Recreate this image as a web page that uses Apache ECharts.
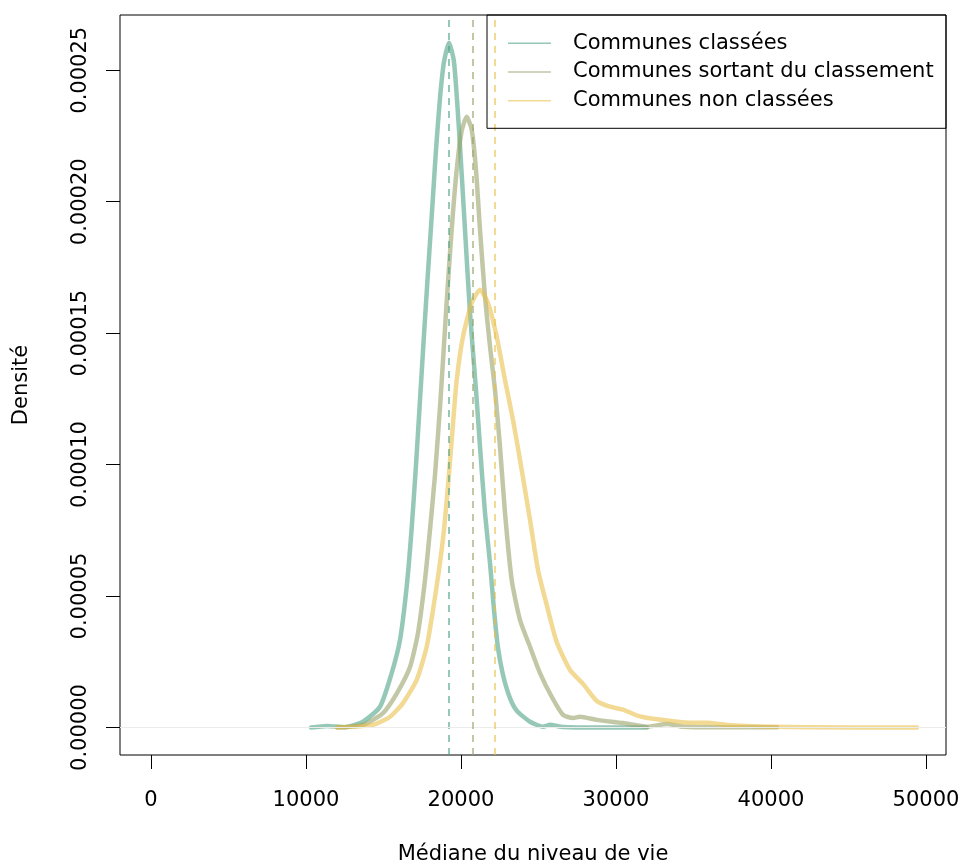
<!DOCTYPE html>
<html>
<head>
<meta charset="utf-8">
<script src="https://cdn.jsdelivr.net/npm/echarts@6/dist/echarts.min.js"></script>
<style>
html,body{margin:0;padding:0;background:#fff;}
#chart{width:964px;height:866px;}
</style>
</head>
<body>
<div id="chart"></div>
<script>
// ---- data ----
const seriesNames = ['Communes classées', 'Communes sortant du classement', 'Communes non classées'];
const xTicks = [0, 10000, 20000, 30000, 40000, 50000];
const yTicks = [0, 0.00005, 0.0001, 0.00015, 0.0002, 0.00025];

const classeesX = [10323, 11355, 12516, 13677, 14774, 15529, 16065, 16497, 16819, 17097, 17355, 17613, 17871, 18129, 18387, 18645, 18903, 19226, 19548, 19871, 20258, 20581, 20968, 21226, 21548, 21871, 22129, 22387, 22710, 23161, 23613, 24452, 25290, 25742, 26581, 28968, 32000];
const classeesY = [0.0e-5, 0.06e-5, 0.01e-5, 0.22e-5, 0.79e-5, 2.07e-5, 3.33e-5, 5.36e-5, 7.59e-5, 9.99e-5, 12.46e-5, 14.94e-5, 17.33e-5, 19.62e-5, 21.97e-5, 23.95e-5, 25.32e-5, 26.05e-5, 25.32e-5, 22.74e-5, 18.93e-5, 15.77e-5, 12.84e-5, 10.68e-5, 8.16e-5, 6.26e-5, 4.47e-5, 3.03e-5, 2.00e-5, 1.12e-5, 0.63e-5, 0.22e-5, 0.03e-5, 0.10e-5, 0.02e-5, 0.0e-5, 0.0e-5];

const sortantX = [12000, 13677, 14968, 15871, 16710, 17226, 17677, 18000, 18323, 18677, 19065, 19387, 19710, 20032, 20368, 20690, 20968, 21226, 21548, 21871, 22194, 22516, 22839, 23271, 23806, 24452, 25097, 25852, 26581, 27226, 27677, 28774, 30452, 32000, 33290, 34323, 36516, 40387];
const sortantY = [0.0e-5, 0.10e-5, 0.55e-5, 1.31e-5, 2.30e-5, 3.60e-5, 5.61e-5, 7.52e-5, 9.61e-5, 12.46e-5, 16.08e-5, 18.85e-5, 21.14e-5, 22.66e-5, 23.23e-5, 22.74e-5, 21.21e-5, 18.93e-5, 16.39e-5, 14.49e-5, 12.84e-5, 10.68e-5, 8.16e-5, 5.61e-5, 4.09e-5, 3.07e-5, 2.07e-5, 1.17e-5, 0.48e-5, 0.36e-5, 0.41e-5, 0.29e-5, 0.17e-5, 0.03e-5, 0.13e-5, 0.03e-5, 0.01e-5, 0.01e-5];

const nonClasseesX = [12000, 14323, 15419, 16258, 17142, 17787, 18194, 18581, 18903, 19194, 19452, 19723, 20129, 20690, 21226, 21742, 22303, 22839, 23355, 23916, 24452, 24968, 25529, 26174, 27032, 27871, 28755, 29613, 30452, 31419, 32516, 34774, 35871, 37161, 40129, 42323, 49419];
const nonClasseesY = [0.0e-5, 0.10e-5, 0.41e-5, 0.93e-5, 1.81e-5, 3.07e-5, 4.47e-5, 5.99e-5, 7.52e-5, 9.42e-5, 11.32e-5, 13.22e-5, 14.87e-5, 16.15e-5, 16.65e-5, 16.15e-5, 14.87e-5, 13.22e-5, 11.70e-5, 9.80e-5, 7.90e-5, 5.99e-5, 4.66e-5, 3.25e-5, 2.19e-5, 1.66e-5, 1.01e-5, 0.79e-5, 0.68e-5, 0.44e-5, 0.32e-5, 0.18e-5, 0.18e-5, 0.10e-5, 0.03e-5, 0.01e-5, 0.0e-5];

const medians = [19226, 20729, 22194];

// ---- styles ----
const lineColors = ['rgba(72,160,130,0.58)', 'rgba(150,160,100,0.58)', 'rgba(232,190,70,0.58)'];
const FONT = 'DejaVu Sans';

function pairs(xs, ys) { return xs.map((x, i) => [x, ys[i]]); }
const allX = [classeesX, sortantX, nonClasseesX];
const allY = [classeesY, sortantY, nonClasseesY];

const chart = echarts.init(document.getElementById('chart'), null, {renderer: 'canvas'});

const series = seriesNames.map((name, i) => ({
  name: name,
  type: 'line',
  data: pairs(allX[i], allY[i]),
  showSymbol: false,
  symbol: 'none',
  smooth: 0.2,
  color: lineColors[i],
  lineStyle: {color: lineColors[i], width: 4.5, cap: 'round', join: 'round'},
  z: 3,
  markLine: {
    silent: true,
    symbol: ['none', 'none'],
    label: {show: false},
    animation: false,
    data: i === 0
      ? [{xAxis: medians[i], lineStyle: {color: lineColors[i], type: [7, 6], width: 2}},
         {yAxis: 0, lineStyle: {color: '#ececec', type: 'solid', width: 1}}]
      : [{xAxis: medians[i], lineStyle: {color: lineColors[i], type: [7, 6], width: 2}}]
  }
}));

chart.setOption({
  animation: false,
  backgroundColor: '#fff',
  textStyle: {fontFamily: FONT},
  grid: {left: 120, right: 18, top: 15, bottom: 111, outerBoundsMode: 'none', containLabel: false,
         show: true, borderColor: '#000', borderWidth: 1, backgroundColor: 'transparent'},
  xAxis: {
    type: 'value', min: -2000, max: 51290,
    name: 'Médiane du niveau de vie', nameLocation: 'middle', nameGap: 89,
    nameTextStyle: {fontSize: 21, color: '#000', fontFamily: FONT},
    axisLine: {show: false, onZero: false},
    axisTick: {show: true, length: 14, lineStyle: {color: '#000', width: 1}, customValues: xTicks},
    axisLabel: {show: true, customValues: xTicks, margin: 35, fontSize: 21, color: '#000', fontFamily: FONT, formatter: v => String(v)},
    splitLine: {show: false}
  },
  yAxis: {
    type: 'value', min: -0.00001046, max: 0.00027104,
    name: 'Densité', nameLocation: 'middle', nameGap: 88,
    nameTextStyle: {fontSize: 21, color: '#000', fontFamily: FONT},
    axisLine: {show: false, onZero: false},
    axisTick: {show: true, length: 14, lineStyle: {color: '#000', width: 1}, customValues: yTicks},
    axisLabel: {show: true, customValues: yTicks, rotate: 90, margin: 29, fontSize: 21, color: '#000', fontFamily: FONT, formatter: v => Number(v).toFixed(5)},
    splitLine: {show: false}
  },
  legend: {
    orient: 'vertical', left: 508, top: 32.8, padding: 0,
    itemWidth: 43, itemHeight: 1.5, itemGap: 7.7, icon: 'rect',
    selectedMode: false,
    textStyle: {fontSize: 21, lineHeight: 21, color: '#000', fontFamily: FONT, padding: [0, 0, 0, 17]},
    data: seriesNames
  },
  graphic: [{
    type: 'rect', silent: true, z: 100,
    shape: {x: 487, y: 15, width: 459, height: 113.3},
    style: {fill: 'none', stroke: '#000', lineWidth: 1}
  }],
  series: series
});
</script>
</body>
</html>
